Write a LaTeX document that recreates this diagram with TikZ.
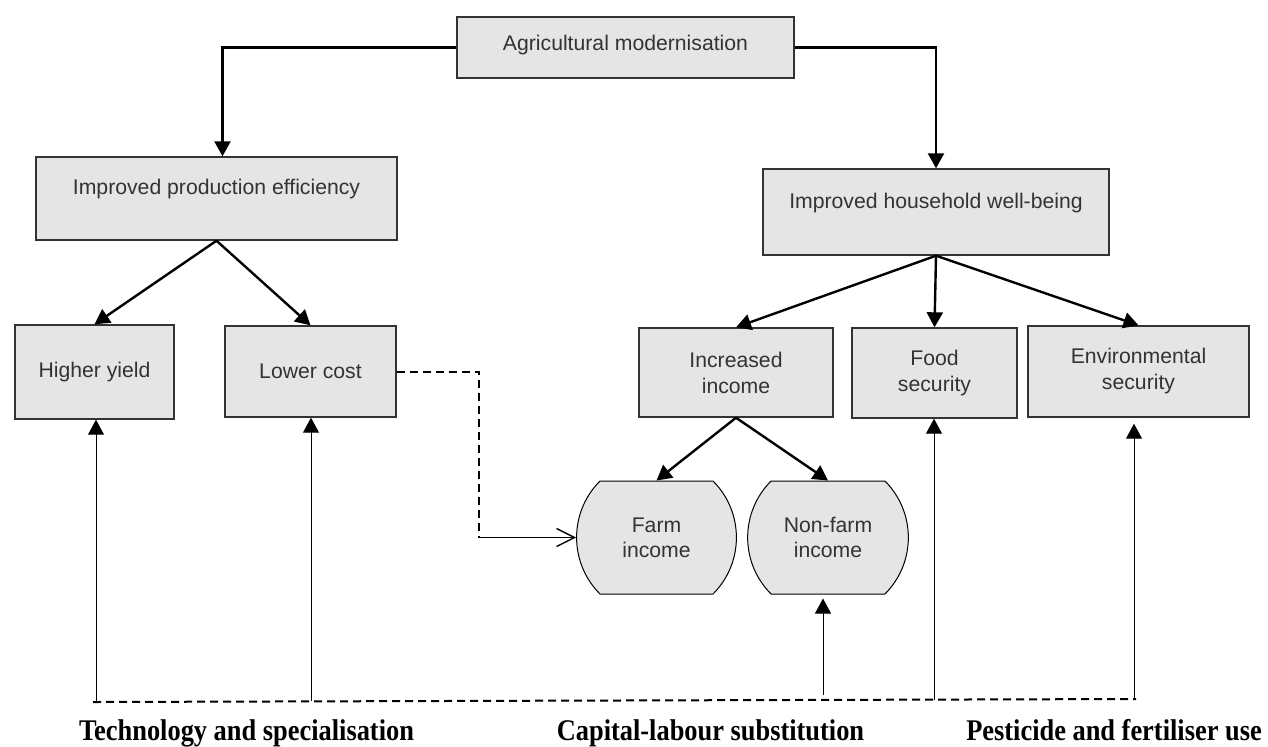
\documentclass[tikz,border=0pt]{standalone}
\usepackage{fontspec}
\setmainfont{Liberation Sans}
\newfontfamily\labelfont[FakeStretch=0.88]{Liberation Serif}
\usetikzlibrary{arrows.meta,shapes.misc}

\begin{document}
\begin{tikzpicture}[
    x=0.5pt, y=-0.5pt,
    box/.style={rectangle, draw=black!80, line width=0.7pt, fill=gray!20, text=black!80, align=center, font=\fontsize{10.6}{13}\selectfont},
    raised/.style={text height=8pt, text depth=#1},
    income/.style={rounded rectangle, rounded rectangle arc length=90, draw, line width=0.5pt, fill=gray!20, text=black!80, align=center, font=\fontsize{10.6}{12.5}\selectfont, minimum height=56.5pt},
    link/.style={->, line width=1.2pt},
    driver/.style={->, line width=0.5pt},
    dashline/.style={line width=1pt, dash pattern=on 4pt off 2.5pt},
    factor/.style={anchor=base, inner sep=0pt, font=\labelfont\bfseries\fontsize{15}{18}\selectfont},
    >={Triangle[length=7.5pt,width=8pt]}
]
    \useasboundingbox (0,0) rectangle (1268,746);

    % Top level
    \node[box, raised=5pt, minimum width=168.5pt, minimum height=30.5pt] (agri) at (625.5, 47.5) {Agricultural modernisation};

    % Second level
    \node[box, raised=12pt, minimum width=180.5pt, minimum height=41.5pt] (ipe) at (216.5, 198.5) {Improved production efficiency};
    \node[box, raised=11.5pt, minimum width=173pt, minimum height=43pt] (ihw) at (936, 212) {Improved household well-being};

    % Third level
    \node[box, minimum width=79.5pt, minimum height=47pt] (hy) at (94.5, 372) {Higher yield};
    \node[box, minimum width=85.5pt, minimum height=45.5pt] (lc) at (310.5, 371.5) {Lower cost};
    \node[box, minimum width=97pt, minimum height=44.5pt] (ii) at (736, 372.5) {Increased\\income};
    \node[box, minimum width=82.5pt, minimum height=45pt] (fs) at (934.5, 373) {Food\\security};
    \node[box, minimum width=110.5pt, minimum height=45.5pt] (es) at (1138.5, 371.5) {Environmental\\security};

    % Income sources
    \node[income, minimum width=80.5pt] (farm) at (656.5, 537.5) {Farm\\income};
    \node[income, minimum width=87pt] (nonfarm) at (828, 537.5) {Non-farm\\income};

    % Main links
    \draw[link] (agri.west) -| ([xshift=3pt]ipe.north);
    \draw[link] (agri.east) -| (ihw.north);
    \draw[link] (ipe.south) -- (hy.north);
    \draw[link] (ipe.south) -- (lc.north);
    \draw[link] (ihw.south) -- (ii.north);
    \draw[link] (ihw.south) -- (fs.north);
    \draw[link] (ihw.south) -- (es.north);
    \draw[link] (ii.south) -- (farm.north);
    \draw[link] (ii.south) -- (nonfarm.north);

    % Lower cost to farm income
    \coordinate (turn) at (479, 537.5);
    \draw[dashline] (lc.east) -| (turn);
    \draw[line width=0.7pt, -{Straight Barb[length=9pt,width=9pt]}] (turn) -- (farm.west);

    % Drivers
    \coordinate (base west) at (93, 702);
    \coordinate (base east) at (1136, 699);
    \draw[dashline] (base west) -- (base east);
    \coordinate (d1) at (96, 702);
    \coordinate (d2) at (311, 701);
    \coordinate (d3) at (823, 695);
    \coordinate (d4) at (934, 700);
    \coordinate (d5) at (1134, 699);
    \draw[driver] (d1) -- (d1 |- hy.south);
    \draw[driver] (d2) -- (d2 |- lc.south);
    \draw[driver] (d3) -- ([yshift=-2pt]d3 |- nonfarm.south);
    \draw[driver] (d4) -- (d4 |- fs.south);
    \draw[driver] (d5) -- ([yshift=-3pt]d5 |- es.south);

    \node[factor] (tech) at (246.5, 740) {Technology and specialisation};
    \node[factor] (cap) at (710.5, 740) {Capital-labour substitution};
    \node[factor] (pest) at (1114, 740) {Pesticide and fertiliser use};
\end{tikzpicture}
\end{document}
